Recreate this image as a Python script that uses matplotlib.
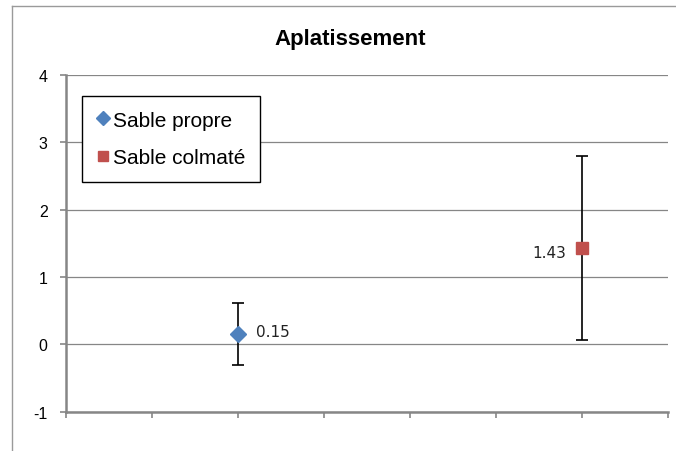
import matplotlib
matplotlib.use("Agg")
import matplotlib.pyplot as plt
from matplotlib.lines import Line2D

# data
series = ["Sable propre", "Sable colmaté"]
x_pos = [2, 6]
means = [0.15, 1.43]
errors = [0.46, 1.36]
labels = ["0.15", "1.43"]
colors = ["#4F81BD", "#C0504D"]
markers = ["D", "s"]
marker_sizes = [8, 8.5]
y_ticks = [-1, 0, 1, 2, 3, 4]
y_ticklabels = ["-1", "0", "1", "2", "3", "4"]
x_ticks = [0, 1, 2, 3, 4, 5, 6, 7]

plt.rcParams['font.family'] = ['Liberation Sans', 'DejaVu Sans']

fig = plt.figure(figsize=(6.76, 4.52), dpi=100)
ax = fig.add_axes([65.7 / 676, 1 - 412.7 / 452, 602.6 / 676, 336.7 / 452])

grid_col = "#868686"
for y in y_ticks:
    ax.axhline(y, color=grid_col, linewidth=0.9, zorder=1)

for i in range(len(series)):
    ax.errorbar(x_pos[i], means[i], yerr=errors[i], fmt='none',
                ecolor='black', elinewidth=1.2, capsize=4, capthick=1.2, zorder=3)
    ax.plot(x_pos[i], means[i], marker=markers[i], color=colors[i],
            markersize=marker_sizes[i], linestyle='none', zorder=4)

# data labels
ax.annotate(labels[0], (x_pos[0], means[0]), xytext=(13, 2), textcoords='offset points',
            ha='left', va='center', fontsize=11, family=['DejaVu Sans'], color='#222222')
ax.annotate(labels[1], (x_pos[1], means[1]), xytext=(-11.5, -3), textcoords='offset points',
            ha='right', va='center', fontsize=11, family=['DejaVu Sans'], color='#222222')

ax.set_xlim(x_ticks[0], x_ticks[-1])
ax.set_ylim(y_ticks[0], y_ticks[-1])
ax.set_yticks(y_ticks)
ax.set_yticklabels(y_ticklabels)
ax.set_xticks(x_ticks)
ax.set_xticklabels([])
ax.tick_params(axis='both', direction='out', length=4, width=1.2, color=grid_col)
ax.tick_params(axis='y', labelsize=11.5, pad=9)

for s in ['top', 'right']:
    ax.spines[s].set_visible(False)
for s in ['left', 'bottom']:
    ax.spines[s].set_color(grid_col)
    ax.spines[s].set_linewidth(1.8)
    ax.spines[s].set_zorder(2)

fig.text(350 / 676, 1 - 40 / 452, "Aplatissement", ha='center', va='center',
         fontsize=16, fontweight='bold')

handles = [Line2D([0], [0], marker=markers[i], color=colors[i], linestyle='none',
                  markersize=marker_sizes[i] - 1) for i in range(len(series))]
leg = ax.legend(handles, series, loc='upper left',
                bbox_to_anchor=(82 / 676, 1 - 97 / 452), bbox_transform=fig.transFigure,
                borderaxespad=0, fontsize=15, frameon=True, fancybox=False,
                handlelength=0.6, handletextpad=0.2, labelspacing=0.9,
                borderpad=0.7, framealpha=1)
leg.get_frame().set_edgecolor('black')
leg.get_frame().set_linewidth(1.0)

# outer chart border (cropped on right and bottom)
fig.add_artist(Line2D([12 / 676, 12 / 676], [0, 1 - 7 / 452], transform=fig.transFigure,
                      color='#9a9a9a', linewidth=1.0))
fig.add_artist(Line2D([12 / 676, 1], [1 - 7 / 452, 1 - 7 / 452], transform=fig.transFigure,
                      color='#9a9a9a', linewidth=1.0))

fig.savefig("out.png", dpi=100)
